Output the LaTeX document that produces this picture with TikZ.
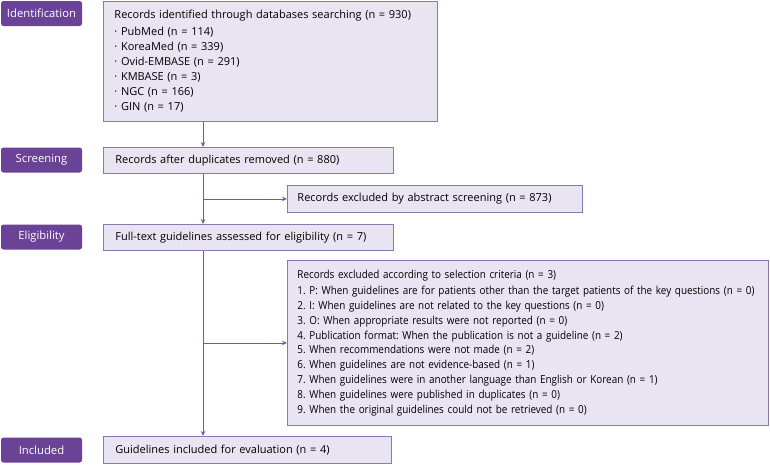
\documentclass[tikz,border=0pt]{standalone}
\usepackage{fontspec}
\setmainfont{Open Sans}
\newfontfamily\narrowfont[FakeStretch=0.9]{Open Sans}
\frenchspacing
\usetikzlibrary{arrows.meta}
\definecolor{labpurple}{RGB}{106,66,150}
\definecolor{boxfill}{RGB}{233,228,241}
\definecolor{boxline}{RGB}{140,120,176}
\definecolor{linecol}{RGB}{118,90,160}
\newcommand{\fs}{\fontsize{11}{13}\selectfont}
\tikzset{
  stage/.style={fill=labpurple, rounded corners=2.5pt, text=white, minimum width=81pt, minimum height=25pt, inner sep=0pt, font=\fontsize{11.3}{13}\selectfont},
  onebox/.style={draw=boxline, fill=boxfill, line width=0.9pt, anchor=north west, inner ysep=0pt, inner xsep=12pt, align=left, font=\fs},
  multibox/.style={draw=boxline, fill=boxfill, line width=0.9pt, anchor=north west, inner xsep=11pt, inner ysep=0pt, align=left},
  arr/.style={draw=linecol, line width=0.8pt, -{Stealth[length=5pt,width=4.5pt]}}
}
\begin{document}
\begin{tikzpicture}[x=1pt,y=-1pt]
\frenchspacing
\useasboundingbox (0,0) rectangle (770,466);
\coordinate (spine) at (203,0);
% stage labels
\node[stage] (idl) at (41.5,13.5) {Identification};
\node[stage] (scl) at (41.5,160) {Screening};
\node[stage] (ell) at (41.5,237) {Eligibility};
\node[stage] (inl) at (41.5,450) {Included};
% boxes
\node[multibox, minimum width=334pt, minimum height=120pt, text width=312pt,
  font=\fontsize{11}{15}\selectfont] (rec) at (103,1)
  {Records identified through databases searching (n = 930)\\[2pt]
   · PubMed (n = 114)\\
   · KoreaMed (n = 339)\\
   · Ovid-EMBASE (n = 291)\\
   · KMBASE (n = 3)\\
   · NGC (n = 166)\\
   · GIN (n = 17)};
\node[onebox, minimum width=290pt, minimum height=26pt, text width=266pt] (dup) at (103,147)
  {Records after duplicates removed (n = 880)};
\node[onebox, minimum width=295pt, minimum height=27pt, inner xsep=10pt, text width=275pt] (abs) at (287,185)
  {Records excluded by abstract screening (n = 873)};
\node[onebox, minimum width=290pt, minimum height=26pt, text width=266pt] (full) at (103,224)
  {Full-text guidelines assessed for eligibility (n = 7)};
\node[multibox, minimum width=481pt, minimum height=165pt, text width=461pt, inner xsep=10pt,
  font=\narrowfont\fontsize{11}{14.8}\selectfont] (crit) at (287,260)
  {Records excluded according to selection criteria (n = 3)\\[1.5pt]
   1. P: When guidelines are for patients other than the target patients of the key questions (n = 0)\\
   2. I: When guidelines are not related to the key questions (n = 0)\\
   3. O: When appropriate results were not reported (n = 0)\\
   4. Publication format: When the publication is not a guideline (n = 2)\\
   5. When recommendations were not made (n = 2)\\
   6. When guidelines are not evidence-based (n = 1)\\
   7. When guidelines were in another language than English or Korean (n = 1)\\
   8. When guidelines were published in duplicates (n = 0)\\
   9. When the original guidelines could not be retrieved (n = 0)};
\node[onebox, minimum width=288pt, minimum height=27pt, text width=264pt] (incl) at (103,436)
  {Guidelines included for evaluation (n = 4)};
% connectors
\draw[arr] (rec.south -| spine) -- (dup.north -| spine);
\draw[arr] (dup.south -| spine) -- (full.north -| spine);
\draw[arr] (abs.west -| spine) -- (abs.west);
\draw[arr] (full.south -| spine) -- (incl.north -| spine);
\draw[arr] (crit.west -| spine) -- (crit.west);
\end{tikzpicture}
\end{document}
